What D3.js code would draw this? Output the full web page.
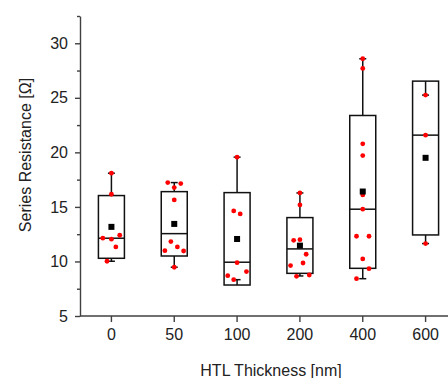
<!DOCTYPE html>
<html>
<head>
<meta charset="utf-8">
<script src="https://cdn.jsdelivr.net/npm/d3@7"></script>
<style>
  body { margin: 0; background: #fff; }
  svg { display: block; font-family: "Liberation Sans", Arial, sans-serif; }
</style>
</head>
<body>
<div id="chart"></div>
<script>
// thickness categories (x axis tick labels)
const categories = ["0", "50", "100", "200", "400", "600"];

// box statistics, one entry per category
const boxLow     = [10.29, 10.50, 7.84, 8.91, 9.37, 12.43];
const boxHigh    = [16.04, 16.40, 16.31, 14.02, 23.38, 26.53];
const medians    = [12.13, 12.55, 9.93, 11.15, 14.79, 21.58];
const whiskerLow = [10.02, 9.47, 8.33, 8.67, 8.42, 11.64];
const whiskerHigh= [18.09, 17.23, 19.56, 16.28, 28.58, 25.25];
const means      = [13.17, 13.44, 12.06, 11.45, 16.41, 19.50];

// raw measurements per category
const points = [
  [18.09, 16.16, 12.13, 12.04, 12.40, 11.33, 10.02],
  [17.23, 17.14, 16.77, 15.64, 11.82, 10.99, 11.33, 10.96, 9.47],
  [19.56, 14.63, 14.36, 9.89, 9.07, 8.70, 8.33],
  [16.28, 15.18, 11.94, 12.00, 10.66, 9.86, 9.62, 8.64, 8.76],
  [28.58, 27.69, 20.78, 19.71, 16.10, 14.79, 12.31, 12.31, 10.23, 9.34, 8.42],
  [25.25, 21.58, 11.64]
];
// jitter of each point, as a fraction of the box width
const jitter = [
  [0, 0, -0.33, 0, 0.32, 0.17, -0.17],
  [-0.25, 0.25, 0, 0, -0.13, -0.36, 0.12, 0.36, 0],
  [0, -0.13, 0.12, 0, 0.36, -0.36, -0.13],
  [0, 0, -0.24, 0, 0.24, 0.12, -0.36, -0.13, 0.36],
  [0, 0, 0, 0, 0, 0, -0.24, 0.24, 0, 0.24, -0.24],
  [0, 0, 0]
];

const yTicks = [5, 10, 15, 20, 25, 30];
const yMinorTicks = [7.5, 12.5, 17.5, 22.5, 27.5, 32.5];

const width = 448, height = 378;
const margin = {top: 16, left: 80, bottom: 62};
const axisColor = "#404040";

const svg = d3.select("#chart").append("svg")
  .attr("width", width).attr("height", height);

const x = d3.scaleBand()
  .domain(categories)
  .range([margin.left, 457])
  .paddingInner(0).paddingOuter(0);

const y = d3.scaleLinear()
  .domain([5, 32.5])
  .range([height - margin.bottom, margin.top]);

const boxW = 26;
const capW = 7;
const cx = i => x(categories[i]) + x.bandwidth() / 2;

// y axis with minor ticks
const yAxis = svg.append("g")
  .attr("transform", `translate(${margin.left},0)`)
  .call(d3.axisLeft(y).tickValues(yTicks).tickSize(5).tickPadding(7).tickSizeOuter(0));
svg.append("g")
  .attr("transform", `translate(${margin.left},0)`)
  .call(d3.axisLeft(y).tickValues(yMinorTicks).tickSize(3).tickFormat("").tickSizeOuter(0))
  .select(".domain").remove();

// x axis
const xAxis = svg.append("g")
  .attr("transform", `translate(0,${y(5)})`)
  .call(d3.axisBottom(x).tickSize(6).tickPadding(7).tickSizeOuter(0));
xAxis.select(".domain").attr("d", `M${margin.left},0H${width + 10}`);

svg.selectAll(".tick text")
  .attr("font-size", 16)
  .attr("fill", "#222")
  .attr("font-family", "'Liberation Sans', Arial, sans-serif");
svg.selectAll(".domain, .tick line")
  .attr("stroke", axisColor)
  .attr("stroke-width", 1.4);

// axis titles
svg.append("text")
  .attr("transform", `translate(31,155) rotate(-90)`)
  .attr("text-anchor", "middle")
  .attr("font-size", 16)
  .attr("fill", "#222")
  .text("Series Resistance [Ω]");

svg.append("text")
  .attr("x", 271).attr("y", 376)
  .attr("text-anchor", "middle")
  .attr("font-size", 16)
  .attr("fill", "#222")
  .text("HTL Thickness [nm]");

// boxes
const groups = svg.append("g").selectAll("g")
  .data(categories)
  .join("g");

groups.append("line")
  .attr("x1", (d, i) => cx(i)).attr("x2", (d, i) => cx(i))
  .attr("y1", (d, i) => y(boxHigh[i])).attr("y2", (d, i) => y(whiskerHigh[i]))
  .attr("stroke", "#111").attr("stroke-width", 1.5);
groups.append("line")
  .attr("x1", (d, i) => cx(i)).attr("x2", (d, i) => cx(i))
  .attr("y1", (d, i) => y(boxLow[i])).attr("y2", (d, i) => y(whiskerLow[i]))
  .attr("stroke", "#111").attr("stroke-width", 1.5);

groups.append("line")
  .attr("x1", (d, i) => cx(i) - capW / 2).attr("x2", (d, i) => cx(i) + capW / 2)
  .attr("y1", (d, i) => y(whiskerHigh[i])).attr("y2", (d, i) => y(whiskerHigh[i]))
  .attr("stroke", "#111").attr("stroke-width", 1.5);
groups.append("line")
  .attr("x1", (d, i) => cx(i) - capW / 2).attr("x2", (d, i) => cx(i) + capW / 2)
  .attr("y1", (d, i) => y(whiskerLow[i])).attr("y2", (d, i) => y(whiskerLow[i]))
  .attr("stroke", "#111").attr("stroke-width", 1.5);

groups.append("rect")
  .attr("x", (d, i) => cx(i) - boxW / 2)
  .attr("y", (d, i) => y(boxHigh[i]))
  .attr("width", boxW)
  .attr("height", (d, i) => y(boxLow[i]) - y(boxHigh[i]))
  .attr("fill", "none")
  .attr("stroke", "#111").attr("stroke-width", 1.5);

groups.append("line")
  .attr("x1", (d, i) => cx(i) - boxW / 2).attr("x2", (d, i) => cx(i) + boxW / 2)
  .attr("y1", (d, i) => y(medians[i])).attr("y2", (d, i) => y(medians[i]))
  .attr("stroke", "#111").attr("stroke-width", 1.5);

// data points
groups.selectAll("circle")
  .data((d, i) => points[i].map((v, j) => ({v: v, i: i, j: j})))
  .join("circle")
  .attr("cx", p => cx(p.i) + jitter[p.i][p.j] * boxW)
  .attr("cy", p => y(p.v))
  .attr("r", 2.4)
  .attr("fill", "#ff0000");

// means
const sq = 6;
groups.append("rect")
  .attr("x", (d, i) => cx(i) - sq / 2)
  .attr("y", (d, i) => y(means[i]) - sq / 2)
  .attr("width", sq).attr("height", sq)
  .attr("fill", "#000");
</script>
</body>
</html>
